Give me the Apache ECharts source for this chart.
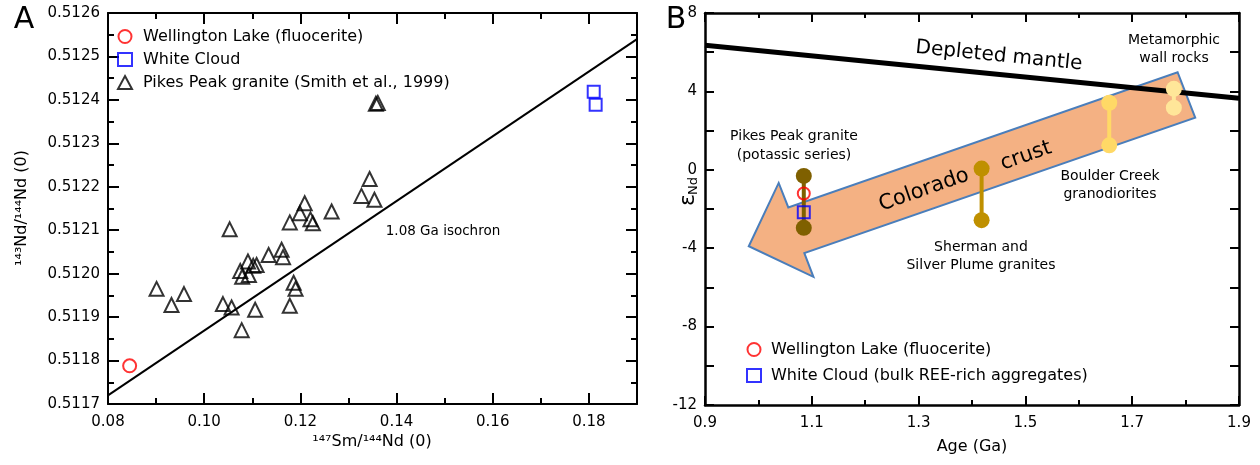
<!DOCTYPE html>
<html>
<head>
<meta charset="utf-8">
<script src="https://cdn.jsdelivr.net/npm/echarts@6/dist/echarts.min.js"></script>
<style>
  html, body { margin: 0; padding: 0; background: #fff; }
  #main { width: 1260px; height: 465px; }
</style>
</head>
<body>
<div id="main"></div>
<script>
// ---- A: 147Sm/144Nd vs 143Nd/144Nd ----
var pikesSm = [0.0901, 0.0932, 0.0958, 0.1053, 0.1039, 0.1057, 0.1078, 0.1075, 0.1079, 0.1091,
               0.1093, 0.1102, 0.1109, 0.1106, 0.1134, 0.1161, 0.1164, 0.1178, 0.1186, 0.1190,
               0.1178, 0.1199, 0.1209, 0.1221, 0.1226, 0.1265, 0.1327, 0.1344, 0.1354, 0.1357, 0.1361];
var pikesNd = [0.511965, 0.511928, 0.511953, 0.512102, 0.511930, 0.511922, 0.511870, 0.512006, 0.511993, 0.512028,
               0.511997, 0.512018, 0.512020, 0.511917, 0.512043, 0.512055, 0.512038, 0.512118, 0.511979, 0.511965,
               0.511926, 0.512139, 0.512162, 0.512125, 0.512116, 0.512143, 0.512179, 0.512218, 0.512170, 0.512391, 0.512393];
var wellSm = [0.0845];
var wellNd = [0.511788];
var cloudSm = [0.1810, 0.1814];
var cloudNd = [0.512419, 0.512389];
var isoSm = [0.08, 0.19];
var isoNd = [0.51172, 0.51254];

// ---- B: age vs eNd ----
var mantleAge = [0.9, 1.9];
var mantleEps = [6.35, 3.65];
var groupNames = ['Pikes Peak', 'Sherman', 'Boulder Creek', 'Metamorphic'];
var groupAge = [1.085, 1.418, 1.657, 1.778];
var groupEpsHi = [-0.31, 0.06, 3.42, 4.13];
var groupEpsLo = [-2.96, -2.57, 1.25, 3.17];
var groupColor = ['#7f6000', '#bf9000', '#ffd966', '#ffe699'];
var wellAge = [1.085];
var wellEps = [-1.21];
var cloudAge = [1.085];
var cloudEps = [-2.16];
// 箭头 (Colorado crust)
var arrowAge = [0.982, 1.038, 1.056, 1.785, 1.818, 1.086, 1.103];
var arrowEps = [-3.90, -0.67, -1.92, 4.98, 2.66, -4.25, -5.46];

var FONT = '"DejaVu Sans", sans-serif';

function zip(a, b) {
    return a.map(function (v, i) { return [v, b[i]]; });
}

function axisCommon(extra) {
    var base = {
        type: 'value',
        splitLine: { show: false },
        axisLine: { show: true, onZero: false, lineStyle: { color: '#000', width: 2 } },
        axisTick: { show: true, inside: true, length: 11, lineStyle: { color: '#000', width: 2 } },
        minorTick: { show: true, splitNumber: 2, length: 6, lineStyle: { color: '#000', width: 2 } },
        axisLabel: { color: '#000', fontSize: 15, fontFamily: FONT }
    };
    for (var k in extra) base[k] = extra[k];
    return base;
}

var myChart = echarts.init(document.getElementById('main'));

var series = [
    {
        name: 'Wellington Lake (fluocerite)', type: 'scatter', xAxisIndex: 0, yAxisIndex: 0,
        symbol: 'circle', symbolSize: 13,
        itemStyle: { color: '#fff', borderColor: '#ff0000', borderWidth: 2 },
        data: zip(wellSm, wellNd), z: 5
    },
    {
        name: 'White Cloud', type: 'scatter', xAxisIndex: 0, yAxisIndex: 0,
        symbol: 'rect', symbolSize: 12,
        itemStyle: { color: 'rgba(255,255,255,0)', borderColor: '#0000ff', borderWidth: 2 },
        data: zip(cloudSm, cloudNd), z: 5
    },
    {
        name: 'Pikes Peak granite (Smith et al., 1999)', type: 'scatter', xAxisIndex: 0, yAxisIndex: 0,
        symbol: 'triangle', symbolSize: 14,
        itemStyle: { color: 'rgba(255,255,255,0)', borderColor: '#000', borderWidth: 2 },
        data: zip(pikesSm, pikesNd), z: 5
    },
    {
        name: 'isochron', type: 'line', xAxisIndex: 0, yAxisIndex: 0,
        symbol: 'none', silent: true,
        lineStyle: { color: '#000', width: 2 },
        data: zip(isoSm, isoNd), z: 3
    },
    {
        name: 'arrow', type: 'custom', xAxisIndex: 2, yAxisIndex: 2,
        silent: true, z: 1,
        renderItem: function (params, api) {
            var pts = arrowAge.map(function (a, i) { return api.coord([a, arrowEps[i]]); });
            return {
                type: 'polygon',
                shape: { points: pts },
                style: { fill: '#f4b183', stroke: '#4a7ebb', lineWidth: 2 }
            };
        },
        data: [[1.4, 0]]
    },
    {
        name: 'Depleted mantle', type: 'line', xAxisIndex: 2, yAxisIndex: 2,
        symbol: 'none', silent: true,
        lineStyle: { color: '#000', width: 5 },
        data: zip(mantleAge, mantleEps), z: 3
    }
];

// 每组的竖线 + 两端圆点
groupNames.forEach(function (n, i) {
    series.push({
        name: n, type: 'line', xAxisIndex: 2, yAxisIndex: 2,
        symbol: 'circle', symbolSize: 16, showSymbol: true, silent: true,
        lineStyle: { color: groupColor[i], width: 4 },
        itemStyle: { color: groupColor[i], borderWidth: 0 },
        data: [[groupAge[i], groupEpsHi[i]], [groupAge[i], groupEpsLo[i]]], z: 4
    });
});

series.push({
    name: 'Wellington Lake (fluocerite)', type: 'scatter', xAxisIndex: 2, yAxisIndex: 2,
    symbol: 'circle', symbolSize: 12,
    itemStyle: { color: 'rgba(255,255,255,0)', borderColor: '#ff0000', borderWidth: 2 },
    data: zip(wellAge, wellEps), z: 6
});
series.push({
    name: 'White Cloud (bulk REE-rich aggregates)', type: 'scatter', xAxisIndex: 2, yAxisIndex: 2,
    symbol: 'rect', symbolSize: 12,
    itemStyle: { color: 'rgba(255,255,255,0)', borderColor: '#0000ff', borderWidth: 2 },
    data: zip(cloudAge, cloudEps), z: 6
});

function txt(text, x, y, size, align, rot) {
    return {
        type: 'text', x: x, y: y, rotation: (rot || 0) * Math.PI / 180, z: 10,
        style: {
            text: text, x: 0, y: 0, fill: '#000',
            font: size + 'px ' + FONT,
            textAlign: align || 'center', textVerticalAlign: 'middle'
        }
    };
}

var tickB = { show: true, inside: true, length: 9, lineStyle: { color: '#000', width: 2 } };
var lineB = { show: true, onZero: false, lineStyle: { color: '#000', width: 2.5 } };

var option = {
    animation: false,
    backgroundColor: '#fff',
    textStyle: { fontFamily: FONT },
    grid: [
        { left: 108, top: 13, width: 529, height: 391 },
        { left: 705, top: 13, width: 534, height: 392 }
    ],
    xAxis: [
        axisCommon({ gridIndex: 0, position: 'bottom', min: 0.08, max: 0.19, interval: 0.02,
            axisLabel: { color: '#000', fontSize: 15, fontFamily: FONT, margin: 11, showMaxLabel: false,
                formatter: function (v) { return v.toFixed(2); } } }),
        axisCommon({ gridIndex: 0, position: 'top', min: 0.08, max: 0.19, interval: 0.02,
            axisLabel: { show: false } }),
        axisCommon({ gridIndex: 1, position: 'bottom', min: 0.9, max: 1.9, interval: 0.2,
            axisTick: tickB, axisLine: lineB,
            minorTick: { show: true, splitNumber: 2, length: 5, lineStyle: { color: '#000', width: 2 } },
            axisLabel: { color: '#000', fontSize: 15, fontFamily: FONT, margin: 11,
                formatter: function (v) { return v.toFixed(1); } } }),
        axisCommon({ gridIndex: 1, position: 'top', min: 0.9, max: 1.9, interval: 0.2,
            axisTick: tickB, axisLine: lineB,
            minorTick: { show: true, splitNumber: 2, length: 5, lineStyle: { color: '#000', width: 2 } },
            axisLabel: { show: false } })
    ],
    yAxis: [
        axisCommon({ gridIndex: 0, position: 'left', min: 0.5117, max: 0.5126, interval: 0.0001,
            axisLabel: { color: '#000', fontSize: 15, fontFamily: FONT, margin: 8,
                formatter: function (v) { return v.toFixed(4); } } }),
        axisCommon({ gridIndex: 0, position: 'right', min: 0.5117, max: 0.5126, interval: 0.0001,
            axisLabel: { show: false } }),
        axisCommon({ gridIndex: 1, position: 'left', min: -12, max: 8, interval: 4,
            axisTick: tickB, axisLine: lineB,
            minorTick: { show: true, splitNumber: 2, length: 9, lineStyle: { color: '#000', width: 2 } },
            axisLabel: { color: '#000', fontSize: 15, fontFamily: FONT, margin: 8 } }),
        axisCommon({ gridIndex: 1, position: 'right', min: -12, max: 8, interval: 4,
            axisTick: tickB, axisLine: lineB,
            minorTick: { show: true, splitNumber: 2, length: 9, lineStyle: { color: '#000', width: 2 } },
            axisLabel: { show: false } })
    ],
    legend: [
        {
            data: ['Wellington Lake (fluocerite)', 'White Cloud', 'Pikes Peak granite (Smith et al., 1999)'],
            orient: 'vertical', left: 112, top: 23, itemWidth: 14, itemHeight: 13, itemGap: 6,
            selectedMode: false,
            textStyle: { color: '#000', fontSize: 16, fontFamily: FONT, lineHeight: 17, padding: [0, 0, 0, 6] }
        },
        {
            data: ['Wellington Lake (fluocerite)', 'White Cloud (bulk REE-rich aggregates)'],
            orient: 'vertical', left: 741, top: 336, itemWidth: 14, itemHeight: 13, itemGap: 9,
            selectedMode: false,
            textStyle: { color: '#000', fontSize: 16, fontFamily: FONT, lineHeight: 17, padding: [0, 0, 0, 5] }
        }
    ],
    graphic: [
        txt('A', 24, 20, 30),
        txt('B', 676, 20, 30),
        txt('¹⁴³Nd/¹⁴⁴Nd (0)', 22, 208, 16, 'center', 90),
        txt('¹⁴⁷Sm/¹⁴⁴Nd (0)', 372, 442, 16),
        txt('1.08 Ga isochron', 443, 231, 13.5),
        txt('Depleted mantle', 999, 56, 20, 'center', -5.7),
        txt('Metamorphic', 1174, 40, 14),
        txt('wall rocks', 1174, 58, 14),
        txt('Pikes Peak granite', 794, 136, 14),
        txt('(potassic series)', 794, 155, 14),
        txt('Boulder Creek', 1110, 176, 14),
        txt('granodiorites', 1110, 194, 14),
        txt('Sherman and', 981, 247, 14),
        txt('Silver Plume granites', 981, 265, 14),
        txt('Colorado', 924, 190, 21, 'center', 19.3),
        txt('crust', 1026, 156, 21, 'center', 19.3),
        {
            type: 'group', x: 688, y: 196, rotation: Math.PI / 2, z: 10,
            children: [
                { type: 'text', style: { text: 'ε', x: -10, y: 0, fill: '#000', font: '22px ' + FONT,
                    textAlign: 'left', textVerticalAlign: 'middle' } },
                { type: 'text', style: { text: 'Nd', x: 1, y: 6, fill: '#000', font: '13px ' + FONT,
                    textAlign: 'left', textVerticalAlign: 'middle' } }
            ]
        },
        txt('Age (Ga)', 972, 447, 16)
    ],
    series: series
};

myChart.setOption(option);
</script>
</body>
</html>
